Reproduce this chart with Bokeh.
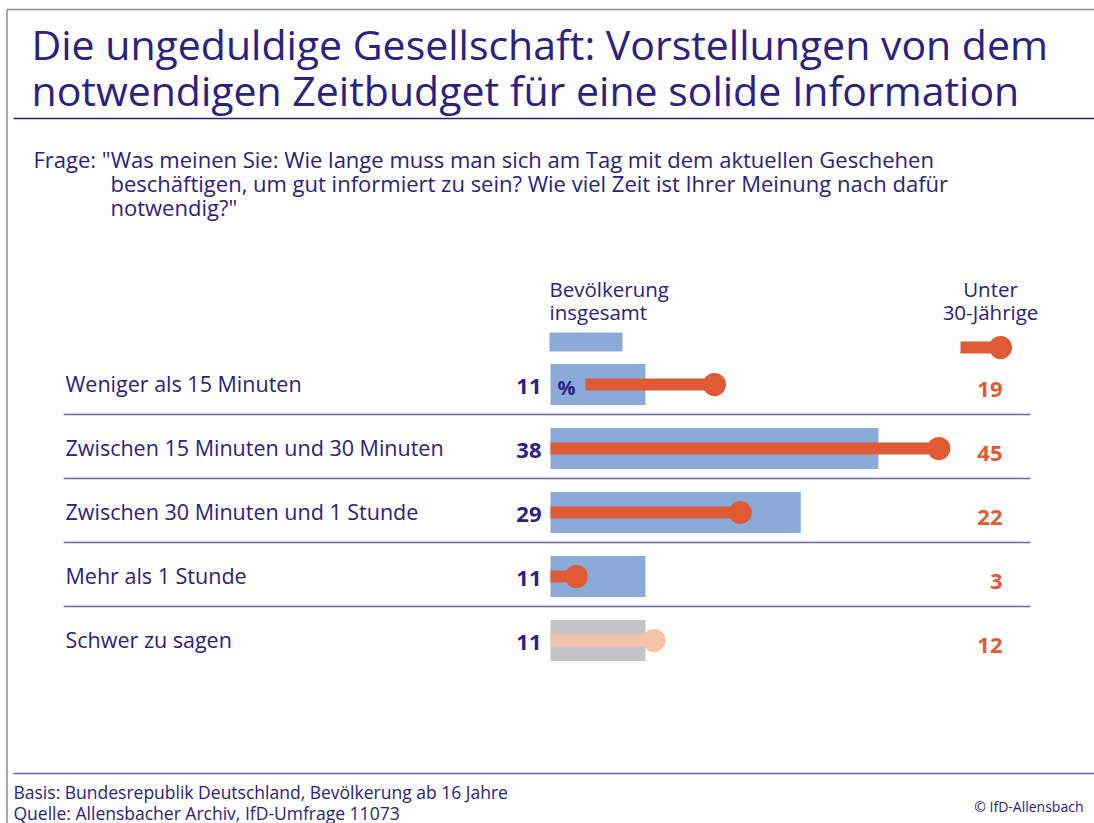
from bokeh.plotting import figure
from bokeh.models import Range1d, ColumnDataSource
from bokeh.core.properties import value
from bokeh.embed import file_html
from bokeh.resources import INLINE

# ---------------- data ----------------
categories = [
    "Weniger als 15 Minuten",
    "Zwischen 15 Minuten und 30 Minuten",
    "Zwischen 30 Minuten und 1 Stunde",
    "Mehr als 1 Stunde",
    "Schwer zu sagen",
]
total = [11, 38, 29, 11, 11]          # Bevölkerung insgesamt
under30 = [19, 45, 22, 3, 12]         # Unter 30-Jährige

title_lines = ["Die ungeduldige Gesellschaft: Vorstellungen von dem",
               "notwendigen Zeitbudget für eine solide Information"]
question_lines = ['Frage: "Was meinen Sie: Wie lange muss man sich am Tag mit dem aktuellen Geschehen',
                  'beschäftigen, um gut informiert zu sein? Wie viel Zeit ist Ihrer Meinung nach dafür',
                  'notwendig?"']
footer_lines = ["Basis: Bundesrepublik Deutschland, Bevölkerung ab 16 Jahre",
                "Quelle: Allensbacher Archiv, IfD-Umfrage 11073"]

# ---------------- style ----------------
NAVY = "#2b2185"
BLUE = "#8aaad8"
RED = "#e05a35"
GRAY = "#c4c4c6"
SALMON = "#f5c3aa"
RULE = "#6c62b2"
FONT = "Open Sans"

ORG = 0           # page offset of the figure
W, H = 1094, 823
K = 8.63          # pixels per percent
X0 = 550          # page x of the zero line
Y0 = 384          # page y of first row centre
DY = 64           # row spacing (px)

def X(px):
    return (px - X0) / K

def Y(py):
    return (py - Y0) / DY

p = figure(width=W, height=H, output_backend="svg", toolbar_location=None,
           x_range=Range1d(X(ORG), X(ORG + W)), y_range=Range1d(Y(ORG + H), Y(ORG)),
           min_border=0)
p.axis.visible = False
p.grid.visible = False
p.outline_line_color = None
p.background_fill_color = "white"

rows = list(range(len(categories)))
bar_colors = [BLUE] * 4 + [GRAY]
dot_colors = [RED] * 4 + [SALMON]
seg_start = [X(585) if i == 0 else 0 for i in rows]

src = ColumnDataSource(dict(
    y=rows, cat=categories, total=total, under30=under30,
    total_lbl=[str(v) for v in total], u_lbl=[str(v) for v in under30],
    bc=bar_colors, dc=dot_colors, s0=seg_start,
))

# frame border (top/left)
p.segment(x0=[X(6.5), X(6.5)], y0=[Y(9), Y(9)], x1=[X(ORG + W), X(6.5)], y1=[Y(9), Y(ORG + H)],
          line_color="#8c8c8c", line_width=1.5)

# bars
p.hbar(y="y", left=0, right="total", height=41 / DY, fill_color="bc", line_color=None, source=src)
# dumbbells
p.segment(x0="s0", y0="y", x1="under30", y1="y", line_color="dc", line_width=12, source=src)
p.scatter(x="under30", y="y", size=23, fill_color="dc", line_color=None, source=src)

# separators
sep_y = [Y(Y0 + DY * i + 30) for i in rows[:-1]]
p.segment(x0=[X(63)] * len(sep_y), y0=sep_y, x1=[X(1030)] * len(sep_y), y1=sep_y,
          line_color=RULE, line_width=1.5)

# category labels
p.text(x=X(65), y="y", text="cat", source=src, text_font=value(FONT), text_font_size="21.5px",
       text_color=NAVY, text_baseline="middle", text_align="left", y_offset=-1)
# left values
p.text(x=X(541), y="y", text="total_lbl", source=src, text_font=value(FONT), text_font_size="22px",
       text_font_style="bold", text_color=NAVY, text_baseline="middle", text_align="right", y_offset=2)
# right values
p.text(x=X(1002), y="y", text="u_lbl", source=src, text_font=value(FONT), text_font_size="22px",
       text_font_style="bold", text_color=RED, text_baseline="middle", text_align="right", y_offset=5)
# percent sign
p.text(x=[X(557)], y=[0], text=["%"], text_font=value(FONT), text_font_size="20px",
       text_font_style="bold", text_color=NAVY, text_baseline="middle", text_align="left", y_offset=3)

# title
p.text(x=[X(31)] * 2, y=[Y(43), Y(89)], text=title_lines, text_font=value(FONT),
       text_font_size="41px", text_color=NAVY, text_baseline="middle", text_align="left")
p.segment(x0=[X(13)], y0=[Y(118)], x1=[X(ORG + W)], y1=[Y(118)], line_color=NAVY, line_width=1.5)

# question
p.text(x=[X(33), X(110), X(110)], y=[Y(158), Y(182), Y(206)], text=question_lines,
       text_font=value(FONT), text_font_size="22px", text_color=NAVY,
       text_baseline="middle", text_align="left")

# column headers
p.text(x=[X(549)] * 2, y=[Y(288), Y(311)], text=["Bevölkerung", "insgesamt"],
       text_font=value(FONT), text_font_size="20.5px", text_color=NAVY,
       text_baseline="middle", text_align="left")
p.text(x=[X(990)] * 2, y=[Y(288), Y(311)], text=["Unter", "30-Jährige"],
       text_font=value(FONT), text_font_size="20.5px", text_color=NAVY,
       text_baseline="middle", text_align="center")

# legend keys
p.quad(left=[X(549)], right=[X(622)], top=[Y(332)], bottom=[Y(351)], fill_color=BLUE, line_color=None)
p.segment(x0=[X(960)], y0=[Y(347)], x1=[X(1000)], y1=[Y(347)], line_color=RED, line_width=12)
p.scatter(x=[X(1000)], y=[Y(347)], size=23, fill_color=RED, line_color=None)

# footer
p.segment(x0=[X(13)], y0=[Y(773)], x1=[X(ORG + W)], y1=[Y(773)], line_color=RULE, line_width=1.5)
p.text(x=[X(13)] * 2, y=[Y(791), Y(812)], text=footer_lines, text_font=value(FONT),
       text_font_size="17.5px", text_color=NAVY, text_baseline="middle", text_align="left")
p.text(x=[X(1083)], y=[Y(806)], text=["© IfD-Allensbach"], text_font=value(FONT),
       text_font_size="14px", text_color=NAVY, text_baseline="middle", text_align="right")

open("out.html", "w").write(file_html(p, INLINE))
